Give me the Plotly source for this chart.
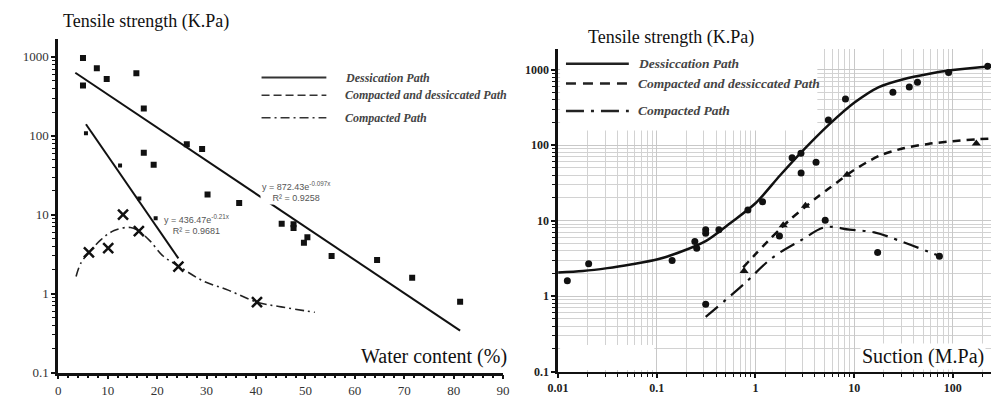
import plotly.graph_objects as go

# ---------------- Left panel: tensile strength vs water content ----------------
dess_w = [5.0, 5.0, 7.8, 9.8, 15.8, 17.3, 17.3, 19.3, 26.0, 29.1, 30.2, 36.6, 45.2, 47.6, 47.6, 50.4, 49.7, 55.3, 64.5, 71.6, 81.3]
dess_t = [970, 433, 716, 523, 621, 221, 61, 43, 78, 68, 18, 14.1, 7.7, 7.6, 6.8, 5.2, 4.4, 3.0, 2.66, 1.59, 0.79]
cd_w = [5.6, 12.5, 16.4, 19.7]
cd_t = [108, 42, 16, 9.0]
comp_w = [6.2, 10.1, 13.1, 16.3, 24.3, 40.2]
comp_t = [3.34, 3.78, 10, 6.2, 2.2, 0.78]
trend_dess_w = [3.45, 81.3]
trend_dess_t = [630, 0.34]
trend_cd_w = [5.6, 24.3]
trend_cd_t = [140, 2.8]
comp_curve_w = [3.6, 4.6, 6.2, 8.6, 11.3, 14.6, 16.3, 18.5, 21.2, 24.3, 29.2, 34.5, 40.2, 45.1, 51.9]
comp_curve_t = [1.65, 2.46, 3.3, 4.8, 6.3, 6.9, 6.2, 4.7, 3.0, 2.24, 1.46, 1.1, 0.78, 0.68, 0.58]

# ---------------- Right panel: tensile strength vs suction ----------------
r_dess_s = [0.0124, 0.0204, 0.143, 0.243, 0.254, 0.313, 0.313, 0.426, 0.838, 1.18, 2.35, 2.89, 2.9, 4.11, 5.48, 8.17, 24.7, 36.2, 43.8, 90.6, 226]
r_dess_t = [1.6, 2.69, 2.96, 5.3, 4.3, 7.6, 6.8, 7.6, 13.9, 17.8, 68.4, 78, 42.9, 59.6, 216, 411, 502, 589, 684, 923, 1117]
r_cd_s = [0.766, 1.91, 3.21, 8.47, 173]
r_cd_t = [2.16, 8.7, 15.8, 40.7, 105]
r_comp_s = [0.313, 1.75, 5.09, 17.3, 73.1]
r_comp_t = [0.78, 6.25, 10.1, 3.8, 3.37]
r_dess_curve_s = [0.01, 0.0178, 0.0316, 0.0562, 0.1, 0.178, 0.316, 0.562, 1.0, 1.78, 3.16, 5.62, 10, 17.8, 31.6, 56.2, 100, 178, 300]
r_dess_curve_t = [2.05, 2.15, 2.35, 2.65, 3.05, 3.9, 5.4, 9.4, 17, 40, 90, 190, 365, 590, 750, 880, 990, 1075, 1127]
r_cd_curve_s = [0.75, 1.0, 1.33, 1.78, 2.37, 3.16, 4.22, 5.62, 7.5, 10, 17.8, 31.6, 56.2, 100, 178, 300]
r_cd_curve_t = [2.4, 3.6, 5.3, 7.8, 11.0, 15, 20.5, 27, 36, 47, 72, 91, 104, 113, 120, 124]
r_comp_curve_s = [0.313, 0.766, 1.47, 2.9, 5.1, 9, 16, 28, 73]
r_comp_curve_t = [0.53, 1.45, 3.2, 5.5, 8.2, 7.6, 7.0, 5.5, 3.4]

legend_left = ["Dessication Path", "Compacted and dessiccated Path", "Compacted Path"]
legend_right = ["Dessiccation Path", "Compacted and dessiccated Path", "Compacted Path"]

W, H = 999, 400
SERIF = "Liberation Serif, Times New Roman, serif"

fig = go.Figure()

# left traces
fig.add_trace(go.Scatter(x=trend_dess_w, y=trend_dess_t, mode="lines",
                         line=dict(color="#111", width=2), xaxis="x", yaxis="y"))
fig.add_trace(go.Scatter(x=trend_cd_w, y=trend_cd_t, mode="lines",
                         line=dict(color="#111", width=2), xaxis="x", yaxis="y"))
fig.add_trace(go.Scatter(x=comp_curve_w, y=comp_curve_t, mode="lines",
                         line=dict(color="#222", width=1.6, shape="spline", dash="9px,4px,2px,4px"),
                         xaxis="x", yaxis="y"))
fig.add_trace(go.Scatter(x=dess_w, y=dess_t, mode="markers",
                         marker=dict(symbol="square", size=6, color="#111"), xaxis="x", yaxis="y"))
fig.add_trace(go.Scatter(x=cd_w, y=cd_t, mode="markers",
                         marker=dict(symbol="square", size=4, color="#111"), xaxis="x", yaxis="y"))
fig.add_trace(go.Scatter(x=comp_w, y=comp_t, mode="markers",
                         marker=dict(symbol="x-thin", size=10, color="#111",
                                     line=dict(color="#111", width=2.5)), xaxis="x", yaxis="y"))

# right traces
fig.add_trace(go.Scatter(x=r_dess_curve_s, y=r_dess_curve_t, mode="lines",
                         line=dict(color="#111", width=2.5, shape="spline", smoothing=0.8),
                         xaxis="x2", yaxis="y2"))
fig.add_trace(go.Scatter(x=r_cd_curve_s, y=r_cd_curve_t, mode="lines",
                         line=dict(color="#111", width=2.5, shape="spline", smoothing=0.8, dash="8px,6px"),
                         xaxis="x2", yaxis="y2"))
fig.add_trace(go.Scatter(x=r_comp_curve_s, y=r_comp_curve_t, mode="lines",
                         line=dict(color="#111", width=2.2, shape="spline", dash="16px,7px,3px,7px"),
                         xaxis="x2", yaxis="y2"))
fig.add_trace(go.Scatter(x=r_dess_s, y=r_dess_t, mode="markers",
                         marker=dict(symbol="circle", size=7, color="#111"), xaxis="x2", yaxis="y2"))
fig.add_trace(go.Scatter(x=r_cd_s, y=r_cd_t, mode="markers",
                         marker=dict(symbol="triangle-up", size=8, color="#111"), xaxis="x2", yaxis="y2"))
fig.add_trace(go.Scatter(x=r_comp_s, y=r_comp_t, mode="markers",
                         marker=dict(symbol="circle", size=7, color="#111"), xaxis="x2", yaxis="y2"))

tick_font_left = dict(family=SERIF, size=13, color="#333")
tick_font_right = dict(family=SERIF, size=12, color="#222", weight="bold")

shapes = []
# white masks over the gridlines in the right panel (paper coordinates, inset from the axis lines)
shapes.append(dict(type="rect", xref="paper", yref="paper",
                   x0=551 / W, x1=813 / W, y0=1 - 125 / H, y1=1 - 41 / H,
                   fillcolor="white", line=dict(width=0), layer="above"))
shapes.append(dict(type="rect", xref="paper", yref="paper",
                   x0=551 / W, x1=647 / W, y0=1 - 369.5 / H, y1=1 - 344 / H,
                   fillcolor="white", line=dict(width=0), layer="above"))

annotations = []

def px(xp, yp):
    return xp / W, 1 - yp / H

# legend samples (left)
left_leg_y = [71, 89, 112]
left_dashes = ["solid", "8px,4px", "9px,4px,2px,4px"]
for yy, dsh, txt in zip(left_leg_y, left_dashes, legend_left):
    x0, y0 = px(247, yy)
    x1, _ = px(313, yy)
    shapes.append(dict(type="line", xref="paper", yref="paper", x0=x0, x1=x1, y0=y0, y1=y0,
                       line=dict(color="#333", width=1.6 if dsh != "solid" else 2, dash=dsh)))
    tx, ty = px(330, yy)
    annotations.append(dict(x=tx, y=ty, xref="paper", yref="paper", xanchor="left", yanchor="middle",
                            text="<b><i>" + txt + "</i></b>", showarrow=False,
                            font=dict(family=SERIF, size=12, color="#444")))

# legend samples (right)
right_leg_y = [57, 77, 105]
right_dashes = ["solid", "10px,7px", "18px,7px,3px,7px"]
for yy, dsh, txt in zip(right_leg_y, right_dashes, legend_right):
    x0, y0 = px(557, yy)
    x1, _ = px(621, yy)
    shapes.append(dict(type="line", xref="paper", yref="paper", x0=x0, x1=x1, y0=y0, y1=y0,
                       line=dict(color="#222", width=2.5, dash=dsh), layer="above"))
    tx, ty = px(628, yy)
    annotations.append(dict(x=tx, y=ty, xref="paper", yref="paper", xanchor="left", yanchor="middle",
                            text="<b><i>" + txt + "</i></b>", showarrow=False,
                            font=dict(family=SERIF, size=13.5, color="#444")))

# titles
tx, ty = px(43, 14)
annotations.append(dict(x=tx, y=ty, xref="paper", yref="paper", xanchor="left", yanchor="middle",
                        text="Tensile strength (K.Pa)", showarrow=False,
                        font=dict(family=SERIF, size=18, color="#111")))
tx, ty = px(577, 30)
annotations.append(dict(x=tx, y=ty, xref="paper", yref="paper", xanchor="left", yanchor="middle",
                        text="Tensile strength (K.Pa)", showarrow=False,
                        font=dict(family=SERIF, size=18, color="#111")))
tx, ty = px(499, 356)
annotations.append(dict(x=tx, y=ty, xref="paper", yref="paper", xanchor="right", yanchor="middle",
                        text="Water content (%)", showarrow=False,
                        font=dict(family=SERIF, size=20, color="#111")))
tx, ty = px(985, 356)
annotations.append(dict(x=tx, y=ty, xref="paper", yref="paper", xanchor="right", yanchor="middle",
                        text="Suction (M.Pa)", showarrow=False, bgcolor="white", borderpad=1,
                        font=dict(family=SERIF, size=20, color="#111")))

# regression equations
tx, ty = px(283, 187)
annotations.append(dict(x=tx, y=ty, xref="paper", yref="paper", xanchor="center", yanchor="middle",
                        text="y = 872.43e<sup>-0.097x</sup><br>R² = 0.9258", showarrow=False,
                        bgcolor="white", borderpad=1,
                        font=dict(family="Liberation Sans, Arial, sans-serif", size=9, color="#555")))
tx, ty = px(181, 221)
annotations.append(dict(x=tx, y=ty, xref="paper", yref="paper", xanchor="center", yanchor="middle",
                        text="y = 436.47e<sup>-0.21x</sup><br>R² = 0.9681", showarrow=False,
                        font=dict(family="Liberation Sans, Arial, sans-serif", size=9, color="#555")))

fig.update_layout(
    width=W, height=H,
    margin=dict(l=0, r=0, t=0, b=0),
    paper_bgcolor="white", plot_bgcolor="white",
    showlegend=False,
    xaxis=dict(domain=[40 / W, 493 / W], range=[0, 90], anchor="y",
               showline=True, linecolor="#111", linewidth=2.5, showgrid=False, zeroline=False,
               ticks="outside", ticklen=4, tickwidth=1.5, tickcolor="#111", dtick=10, tick0=0,
               minor=dict(dtick=2, ticks="outside", ticklen=3, tickwidth=1.5, tickcolor="#111"),
               tickfont=tick_font_left),
    yaxis=dict(domain=[(H - 372) / H, (H - 32) / H], type="log", range=[-1, 3.222], anchor="x",
               showline=True, linecolor="#111", linewidth=3, showgrid=False, zeroline=False,
               ticks="outside", ticklen=4, tickwidth=1.5, tickcolor="#111", dtick=1,
               exponentformat="none",
               minor=dict(dtick="D1", ticks="outside", ticklen=3, tickwidth=1.2, tickcolor="#111"),
               tickfont=tick_font_left),
    xaxis2=dict(domain=[549 / W, 1.0], type="log", range=[-2, 2.478], anchor="y2",
                showline=True, linecolor="#111", linewidth=2, zeroline=False,
                showgrid=True, gridcolor="#c8c8c8", gridwidth=1,
                ticks="outside", ticklen=4, tickwidth=1.5, tickcolor="#111", dtick=1,
                exponentformat="none",
                minor=dict(dtick="D1", ticks="outside", ticklen=3, tickwidth=1.2, tickcolor="#111",
                           showgrid=True, gridcolor="#d2d2d2", gridwidth=1),
                tickfont=tick_font_right),
    yaxis2=dict(domain=[(H - 371) / H, (H - 42) / H], type="log", range=[-1, 3.273], anchor="x2",
                showline=True, linecolor="#111", linewidth=2.5, zeroline=False,
                showgrid=True, gridcolor="#c8c8c8", gridwidth=1,
                ticks="outside", ticklen=4, tickwidth=1.5, tickcolor="#111", dtick=1,
                exponentformat="none",
                minor=dict(dtick="D1", ticks="outside", ticklen=3, tickwidth=1.2, tickcolor="#111",
                           showgrid=True, gridcolor="#d2d2d2", gridwidth=1),
                tickfont=tick_font_right),
    shapes=shapes,
    annotations=annotations,
)

fig.write_html("out.html")
